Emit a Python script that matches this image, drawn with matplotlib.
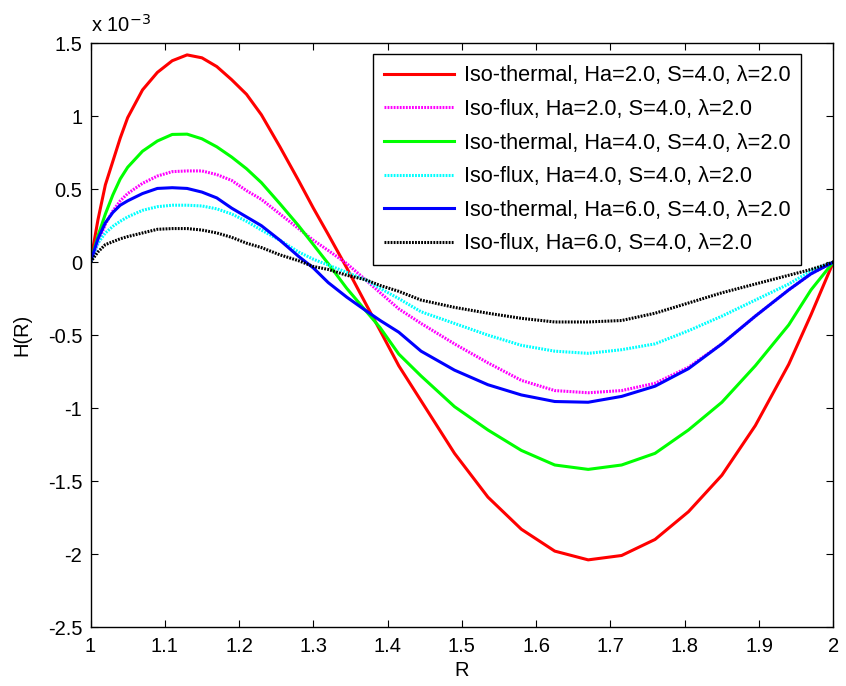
import matplotlib
matplotlib.use("Agg")
import matplotlib.pyplot as plt
from matplotlib.ticker import FuncFormatter

plt.rcParams["font.family"] = ["Liberation Sans", "DejaVu Sans"]
plt.rcParams["axes.unicode_minus"] = False

# radial coordinate
r_values = [1.0, 1.01, 1.02, 1.03, 1.04, 1.05, 1.07, 1.09, 1.11, 1.13, 1.15, 1.17, 1.19,
            1.21, 1.23, 1.255, 1.28, 1.30, 1.32, 1.345, 1.37, 1.39, 1.415, 1.445, 1.49,
            1.535, 1.58, 1.625, 1.67, 1.715, 1.76, 1.805, 1.85, 1.895, 1.94, 1.97, 2.0]

# H(R) in units of 1e-3
iso_thermal_ha2 = [0, 0.29, 0.53, 0.69, 0.85, 0.99, 1.18, 1.30, 1.38, 1.42, 1.40, 1.34, 1.25,
                   1.15, 1.01, 0.79, 0.56, 0.37, 0.19, -0.04, -0.28, -0.47, -0.71, -0.95, -1.31,
                   -1.61, -1.83, -1.98, -2.04, -2.01, -1.90, -1.71, -1.46, -1.12, -0.70, -0.36, 0]
iso_flux_ha2 = [0, 0.13, 0.26, 0.35, 0.42, 0.47, 0.54, 0.59, 0.62, 0.625, 0.625, 0.60, 0.56,
                0.49, 0.43, 0.33, 0.23, 0.15, 0.08, -0.01, -0.12, -0.21, -0.32, -0.42, -0.56,
                -0.69, -0.81, -0.88, -0.895, -0.88, -0.83, -0.72, -0.56, -0.37, -0.19, -0.08, 0]
iso_thermal_ha4 = [0, 0.18, 0.33, 0.46, 0.57, 0.65, 0.76, 0.83, 0.875, 0.877, 0.845, 0.79, 0.72,
                   0.64, 0.545, 0.40, 0.25, 0.12, -0.01, -0.18, -0.33, -0.45, -0.63, -0.78, -0.99,
                   -1.15, -1.29, -1.39, -1.42, -1.39, -1.31, -1.15, -0.96, -0.71, -0.43, -0.19, 0]
iso_flux_ha4 = [0, 0.13, 0.20, 0.245, 0.28, 0.31, 0.355, 0.38, 0.39, 0.39, 0.385, 0.365, 0.33,
                0.28, 0.22, 0.15, 0.07, 0.02, -0.02, -0.07, -0.12, -0.18, -0.25, -0.34, -0.42,
                -0.50, -0.57, -0.61, -0.625, -0.60, -0.56, -0.47, -0.37, -0.26, -0.15, -0.06, 0]
iso_thermal_ha6 = [0, 0.16, 0.27, 0.34, 0.39, 0.42, 0.47, 0.505, 0.51, 0.505, 0.48, 0.44, 0.37,
                   0.31, 0.25, 0.15, 0.04, -0.04, -0.14, -0.24, -0.33, -0.40, -0.48, -0.61, -0.74,
                   -0.84, -0.91, -0.955, -0.96, -0.92, -0.85, -0.73, -0.56, -0.37, -0.19, -0.08, 0]
iso_flux_ha6 = [0, 0.07, 0.12, 0.14, 0.16, 0.175, 0.20, 0.225, 0.23, 0.23, 0.22, 0.20, 0.17,
                0.13, 0.10, 0.05, 0.01, -0.03, -0.05, -0.09, -0.12, -0.16, -0.20, -0.26, -0.31,
                -0.35, -0.385, -0.41, -0.41, -0.40, -0.35, -0.28, -0.21, -0.15, -0.09, -0.05, 0]

series = [
    ("Iso-thermal, Ha=2.0, S=4.0, λ=2.0", iso_thermal_ha2, "#ff0000", "-"),
    ("Iso-flux, Ha=2.0, S=4.0, λ=2.0", iso_flux_ha2, "#ff00ff", ":"),
    ("Iso-thermal, Ha=4.0, S=4.0, λ=2.0", iso_thermal_ha4, "#00ff00", "-"),
    ("Iso-flux, Ha=4.0, S=4.0, λ=2.0", iso_flux_ha4, "#00ffff", ":"),
    ("Iso-thermal, Ha=6.0, S=4.0, λ=2.0", iso_thermal_ha6, "#0000ff", "-"),
    ("Iso-flux, Ha=6.0, S=4.0, λ=2.0", iso_flux_ha6, "#000000", ":"),
]

x_ticks = [1, 1.1, 1.2, 1.3, 1.4, 1.5, 1.6, 1.7, 1.8, 1.9, 2]
y_ticks = [-2.5, -2, -1.5, -1, -0.5, 0, 0.5, 1, 1.5]

fig = plt.figure(figsize=(8.46, 6.86), dpi=100)
ax = fig.add_axes([0.107, 0.086, 0.878, 0.851])

for label, values, color, style in series:
    if style == ":":
        ax.plot(r_values, values, color=color, linewidth=2.2, linestyle=(0, (0.6, 0.4)), label=label)
    else:
        ax.plot(r_values, values, color=color, linewidth=2.2, linestyle="-", label=label)

ax.set_xlim(1, 2)
ax.set_ylim(-2.5, 1.5)
ax.set_xticks(x_ticks)
ax.set_yticks(y_ticks)
fmt = FuncFormatter(lambda v, pos: f"{v:g}")
ax.xaxis.set_major_formatter(fmt)
ax.yaxis.set_major_formatter(fmt)
ax.tick_params(direction="in", top=True, right=True, labelsize=14.5, length=5, width=0.8)
ax.tick_params(axis="x", pad=7)
ax.tick_params(axis="y", pad=6)
for spine in ax.spines.values():
    spine.set_linewidth(1.0)

ax.set_xlabel("R", fontsize=14.5, labelpad=4)
ax.set_ylabel("H(R)", fontsize=14.5, labelpad=12)
ax.text(0.0, 1.012, "x 10$^{-3}$", transform=ax.transAxes, fontsize=14.5, ha="left", va="bottom")

leg = ax.legend(loc="upper right", bbox_to_anchor=(0.957, 0.981), fontsize=15.7, frameon=True,
                fancybox=False, edgecolor="black", framealpha=1, handlelength=3.2,
                borderpad=0.5, labelspacing=0.58, handletextpad=0.45, borderaxespad=0)
leg.get_frame().set_linewidth(1.0)

fig.savefig("out.png", dpi=100)
